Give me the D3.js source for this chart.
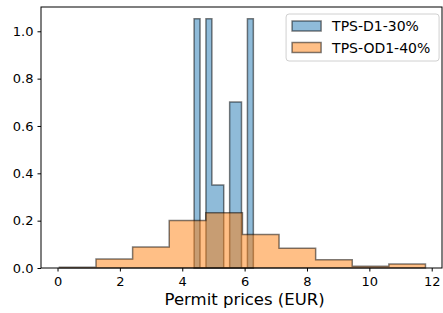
<!DOCTYPE html>
<html>
<head>
<meta charset="utf-8">
<script src="https://cdn.jsdelivr.net/npm/d3@7"></script>
<style>
  body { margin: 0; background: #fff; }
  text { font-family: "DejaVu Sans", sans-serif; }
</style>
</head>
<body>
<svg width="443" height="313"></svg>
<script>
// histogram bins (density values)
let seriesNames = ["TPS-D1-30%", "TPS-OD1-40%"];
let d1Edges = [4.38, 4.57, 4.76, 4.95, 5.14, 5.33, 5.52, 5.71, 5.90, 6.09, 6.28];
let d1Density = [1.0526, 0, 1.0526, 0.3509, 0.3509, 0, 0.7018, 0.7018, 0, 1.0526];
let od1Edges = [0.06, 1.234, 2.408, 3.582, 4.756, 5.93, 7.104, 8.278, 9.452, 10.626, 11.8];
let od1Density = [0.003, 0.038, 0.089, 0.201, 0.233, 0.141, 0.083, 0.035, 0.007, 0.017];
let xTicks = [0, 2, 4, 6, 8, 10, 12];
let yTicks = [0, 0.2, 0.4, 0.6, 0.8, 1.0];

let svg = d3.select("svg"),
    margin = {top: 7, right: 1, bottom: 45, left: 41},
    width = svg.attr("width") - margin.left - margin.right,
    height = svg.attr("height") - margin.top - margin.bottom;

let x = d3.scaleLinear().domain([-0.53, 12.33]).range([0, width]),
    y = d3.scaleLinear().domain([0, 1.1026]).range([height, 0]),
    colors = ["#1f77b4", "#ff7f0e"];

let g = svg.append("g")
    .attr("transform", "translate(" + margin.left + "," + margin.top + ")");

// stepfilled outline: baseline -> steps -> baseline
let stepPoints = (edges, vals) => {
  let pts = [[edges[0], 0]];
  vals.forEach((v, i) => {
    pts.push([edges[i], v]);
    pts.push([edges[i + 1], v]);
  });
  pts.push([edges[edges.length - 1], 0]);
  return pts;
};

let line = d3.line()
    .x((d) => x(d[0]))
    .y((d) => y(d[1]));

let hists = [[d1Edges, d1Density], [od1Edges, od1Density]];

hists.forEach((h, i) => {
  g.append("path")
      .attr("d", line(stepPoints(h[0], h[1])) + "Z")
      .style("fill", colors[i])
      .style("fill-opacity", 0.5)
      .style("stroke", "#000")
      .style("stroke-opacity", 0.5)
      .style("stroke-width", 1.5)
      .style("stroke-linejoin", "miter");
});

// axes
let xAxis = g.append("g")
    .attr("transform", "translate(0," + height + ")")
    .call(d3.axisBottom(x).tickValues(xTicks).tickFormat(d3.format("d")).tickSize(3.5).tickPadding(5));

let yAxis = g.append("g")
    .call(d3.axisLeft(y).tickValues(yTicks).tickFormat(d3.format(".1f")).tickSize(3.5).tickPadding(4));

[xAxis, yAxis].forEach((a) => {
  a.select(".domain").remove();
  a.selectAll("line").style("stroke", "#000").style("stroke-width", 1);
  a.selectAll("text").style("font-size", "13px").style("fill", "#000")
      .style("font-family", "DejaVu Sans, sans-serif");
});

// frame
g.append("rect")
    .attr("width", width)
    .attr("height", height)
    .style("fill", "none")
    .style("stroke", "#000")
    .style("stroke-width", 1);

g.append("text")
    .attr("x", x(6))
    .attr("y", height + 37)
    .style("text-anchor", "middle")
    .style("font-size", "16.5px")
    .text("Permit prices (EUR)");

// legend
let legend = g.append("g")
    .attr("transform", "translate(" + (x(7.33)) + ",7)");

legend.append("rect")
    .attr("width", 153)
    .attr("height", 47)
    .attr("rx", 3)
    .style("fill", "#fff")
    .style("fill-opacity", 0.8)
    .style("stroke", "#d0d0d0");

seriesNames.forEach((name, i) => {
  let row = legend.append("g")
      .attr("transform", "translate(6," + (7 + i * 21.5) + ")");
  row.append("rect")
      .attr("width", 29)
      .attr("height", 10)
      .style("fill", colors[i])
      .style("fill-opacity", 0.5)
      .style("stroke", "#000")
      .style("stroke-opacity", 0.5)
      .style("stroke-width", 1.5);
  row.append("text")
      .attr("x", 40)
      .attr("y", 10)
      .style("font-size", "14px")
      .text(name);
});
</script>
</body>
</html>
